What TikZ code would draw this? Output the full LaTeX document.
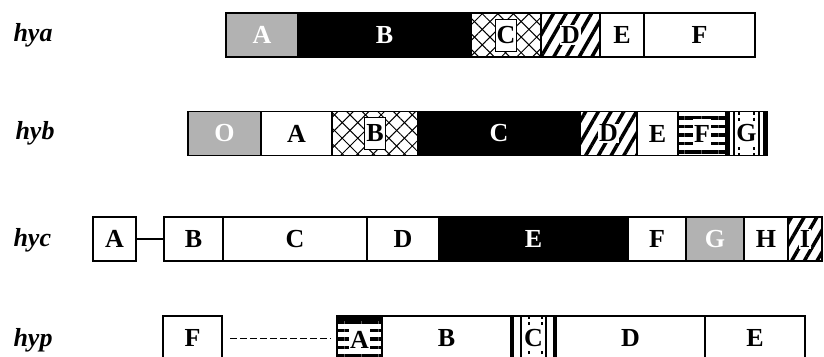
\documentclass[tikz,border=0pt]{standalone}
\usepackage{fontspec}
\setmainfont{Liberation Serif}
\usetikzlibrary{positioning,patterns.meta}

\newcommand{\segfont}{\bfseries\fontsize{26}{26}\selectfont}

\tikzset{
  seg/.style={draw, line width=1.2pt, outer sep=0pt, inner sep=0pt, minimum height=44pt, font=\segfont},
  blk/.style={seg, fill=black, text=white},
  stip/.style={seg, fill=gray!60, text=white},
  cross/.style={seg, preaction={pattern={Lines[angle=45,distance=11pt,line width=1pt]}},
    pattern={Lines[angle=-45,distance=11pt,line width=1pt]}},
  stripes/.style={seg, pattern={Lines[angle=60,distance=11pt,line width=3.5pt]}},
  hbars/.style={seg, pattern={Lines[angle=0,distance=8.5pt,line width=3.4pt]}},
  inbox/.style={draw, fill=white, line width=0.8pt, inner xsep=1.5pt, minimum height=32pt, font=\segfont},
  halo/.style={fill=white, inner sep=1pt, font=\segfont},
  rowname/.style={anchor=west, font=\bfseries\itshape\fontsize{26}{26}\selectfont},
}

\begin{document}
\begin{tikzpicture}[x=1pt, y=-1pt]
    \useasboundingbox (0,0) rectangle (824,356);

    % row names
    \node[rowname] (nya) at (10,35) {hya};
    \node[rowname] (nyb) at (12,133) {hyb};
    \node[rowname] (nyc) at (10,240) {hyc};
    \node[rowname] (nyp) at (10,340) {hyp};

    % hya
    \node[stip, minimum width=72pt, anchor=west] (hyaA) at (226,35) {A};
    \node[blk, minimum width=173pt, right=0pt of hyaA] (hyaB) {B};
    \node[cross, minimum width=70pt, right=0pt of hyaB] (hyaC) {};
    \node[inbox] (hyaCl) at (hyaC) {C};
    \node[stripes, minimum width=59pt, right=0pt of hyaC] (hyaD) {};
    \node[halo] (hyaDl) at (hyaD) {D};
    \node[seg, minimum width=44pt, right=0pt of hyaD] (hyaE) {E};
    \node[seg, minimum width=111pt, right=0pt of hyaE] (hyaF) {F};

    % hyb
    \node[stip, minimum width=73pt, anchor=west] (hybO) at (188,133.5) {O};
    \node[seg, minimum width=71pt, right=0pt of hybO] (hybA) {A};
    \node[cross, minimum width=86pt, right=0pt of hybA] (hybB) {};
    \node[inbox] (hybBl) at (hybB) {B};
    \node[blk, minimum width=162pt, right=0pt of hybB] (hybC) {C};
    \node[stripes, minimum width=57pt, right=0pt of hybC] (hybD) {};
    \node[halo] (hybDl) at (hybD) {D};
    \node[seg, minimum width=41pt, right=0pt of hybD] (hybE) {E};
    \node[hbars, minimum width=48pt, right=0pt of hybE] (hybF) {};
    \node[halo, minimum height=30pt] (hybFl) at (hybF) {F};
    \node[seg, minimum width=41pt, right=0pt of hybF] (hybG) {};
    \foreach \dx in {2.5,8} {
      \draw[line width=2.2pt] ([xshift=\dx pt]hybG.north west) -- ([xshift=\dx pt]hybG.south west);
      \draw[line width=2.2pt] ([xshift=-\dx pt]hybG.north east) -- ([xshift=-\dx pt]hybG.south east);
    }
    \foreach \dx in {13,28} {
      \draw[line width=1.5pt, dash pattern=on 3pt off 3pt] ([xshift=\dx pt]hybG.north west) -- ++(0,11);
      \draw[line width=1.5pt, dash pattern=on 3pt off 3pt] ([xshift=\dx pt]hybG.south west) -- ++(0,-11);
    }
    \node[halo] (hybGl) at (hybG) {G};

    % hyc
    \node[seg, minimum width=43pt, anchor=west] (hycA) at (93,239) {A};
    \node[seg, minimum width=59pt, anchor=west] (hycB) at (164,239) {B};
    \draw[line width=1.2pt] (hycA) -- (hycB);
    \node[seg, minimum width=144pt, right=0pt of hycB] (hycC) {C};
    \node[seg, minimum width=72pt, right=0pt of hycC] (hycD) {D};
    \node[blk, minimum width=189pt, right=0pt of hycD] (hycE) {E};
    \node[seg, minimum width=58pt, right=0pt of hycE] (hycF) {F};
    \node[stip, minimum width=58pt, right=0pt of hycF] (hycG) {G};
    \node[seg, minimum width=44pt, right=0pt of hycG] (hycH) {H};
    \node[stripes, minimum width=34pt, right=0pt of hycH] (hycI) {};
    \node[halo] (hycIl) at (hycI) {I};

    % hyp
    \node[seg, minimum width=59pt, anchor=west] (hypF) at (163,338) {F};
    \node[hbars, minimum width=45pt, anchor=west] (hypA) at (337,338) {};
    \fill (hypA.north west) rectangle ([yshift=-5pt]hypA.north east);
    \node[halo, minimum height=28pt] (hypAl) at ([yshift=-2pt]hypA.center) {A};
    \draw[line width=1pt, dash pattern=on 7pt off 3pt, shorten <=8pt, shorten >=6pt] (hypF) -- (hypA);
    \node[seg, minimum width=129pt, right=0pt of hypA] (hypB) {B};
    \node[seg, minimum width=45pt, right=0pt of hypB] (hypC) {};
    \foreach \dx in {2,10} {
      \draw[line width=2.2pt] ([xshift=\dx pt]hypC.north west) -- ([xshift=\dx pt]hypC.south west);
      \draw[line width=2.2pt] ([xshift=-\dx pt]hypC.north east) -- ([xshift=-\dx pt]hypC.south east);
    }
    \foreach \dx in {18,31} {
      \draw[line width=1.5pt, dash pattern=on 3pt off 3pt] ([xshift=\dx pt]hypC.north west) -- ++(0,10);
      \draw[line width=1.5pt, dash pattern=on 3pt off 3pt] ([xshift=\dx pt]hypC.south west) -- ++(0,-10);
    }
    \node[halo] (hypCl) at (hypC) {C};
    \node[seg, minimum width=149pt, right=0pt of hypC] (hypD) {D};
    \node[seg, minimum width=100pt, right=0pt of hypD] (hypE) {E};
\end{tikzpicture}
\end{document}
